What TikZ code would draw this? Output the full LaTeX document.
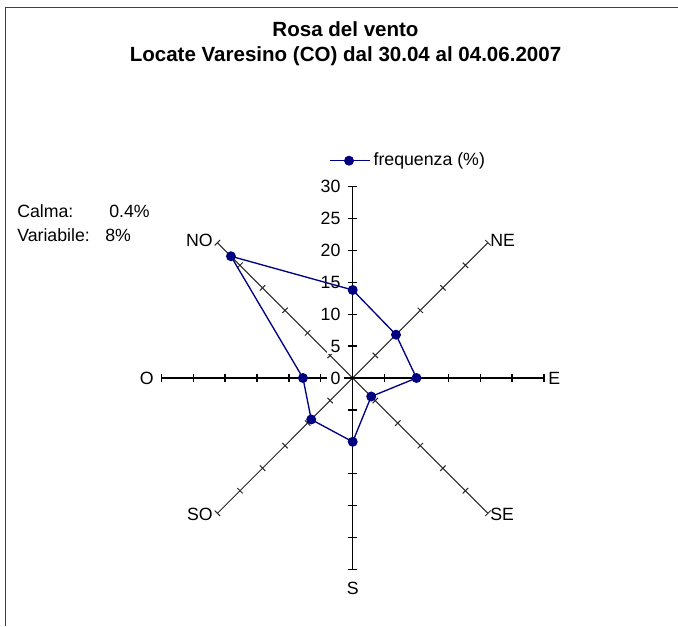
\documentclass[tikz,border=0pt]{standalone}
\usepackage{fontspec}
\setmainfont{Liberation Sans}
\definecolor{serie}{RGB}{0,0,128}
\definecolor{cornice}{RGB}{64,64,64}
\definecolor{grigio}{RGB}{40,40,40}

\begin{document}
\begin{tikzpicture}[x=0.75pt,y=0.75pt]
\tikzstyle{every node}+=[inner sep=0pt]
\tikzstyle{testo}=[font=\fontsize{13.3}{16}\selectfont]
\tikzstyle{titolo}=[font=\fontsize{15.4}{18}\selectfont\bfseries, anchor=base]
\tikzstyle{asse}=[black, line width=1pt]
\tikzstyle{diag}=[grigio, line width=0.75pt]
\tikzstyle{punto}=[circle, fill=serie, minimum size=7.5pt]
\tikzstyle{linea}=[serie, line width=1pt]
\useasboundingbox (0,0) rectangle (678,626);
\draw [cornice, line width=1pt] (5.5,0) -- (5.5,618.5) -- (678,618.5);
\node [titolo] (titolo) at (345.5,589) {Rosa del vento};
\node [titolo] (sottotitolo) at (345.5,564) {Locate Varesino (CO) dal 30.04 al 04.06.2007};
\node [testo, anchor=base west] (calma) at (17,408.7) {Calma:};
\node [testo, anchor=base west] (calmaval) at (109,408.7) {0.4\%};
\node [testo, anchor=base west] (variabile) at (17,385) {Variabile:};
\node [testo, anchor=base west] (variabileval) at (105,385) {8\%};
\coordinate (legA) at (330,465.3);
\coordinate (legB) at (370,465.3);
\draw [linea] (legA) -- (legB);
\node [punto] (legpunto) at (349,465.3) {};
\node [testo, anchor=west] (legenda) at (373.3,465.3) {frequenza (\%)};
\node [testo, anchor=west] (NE) at (490,386) {NE};
\node [testo, anchor=east] (NO) at (213,386) {NO};
\node [testo, anchor=west] (SE) at (490,112) {SE};
\node [testo, anchor=east] (SO) at (213,112) {SO};
\node [testo, anchor=west] (E) at (548,248) {E};
\node [testo, anchor=east] (O) at (154,248) {O};
\node [testo] (S) at (352.7,38) {S};
\begin{scope}[shift={(352.7,248)}, x=4.783pt, y=4.783pt]
\draw [diag] (225:30) -- (45:30);
\draw [diag] (135:30) -- (315:30);
\draw [asse] (-30,0) -- (30,0);
\draw [asse] (0,-30) -- (0,30);
\foreach \r in {5,10,...,30} {
  \draw [asse] (\r,-0.6) -- (\r,0.6);
  \draw [asse] (-\r,-0.6) -- (-\r,0.6);
  \draw [asse] (-0.7,\r) -- (0.7,\r);
  \draw [asse] (-0.7,-\r) -- (0.7,-\r);
  \foreach \a in {45,135,225,315}
    \draw [diag] (\a:\r) ++(\a+90:0.6) -- ++(\a-90:1.2);
}
\foreach \v in {0,5,...,30}
  \node [testo, anchor=east, fill=white, inner xsep=2.5pt, inner ysep=1pt] (n\v) at (-1.36,\v) {\v};
\coordinate (pN) at (90:13.8);
\coordinate (pNE) at (45:9.6);
\coordinate (pE) at (0:10);
\coordinate (pSE) at (315:4.1);
\coordinate (pS) at (270:10);
\coordinate (pSO) at (225:9.2);
\coordinate (pO) at (180:7.8);
\coordinate (pNO) at (135:27);
\draw [linea] (pN) -- (pNE) -- (pE) -- (pSE) -- (pS) -- (pSO) -- (pO) -- (pNO) -- cycle;
\foreach \p in {pN,pNE,pE,pSE,pS,pSO,pO,pNO}
  \node [punto] at (\p) {};
\end{scope}
\end{tikzpicture}
\end{document}
